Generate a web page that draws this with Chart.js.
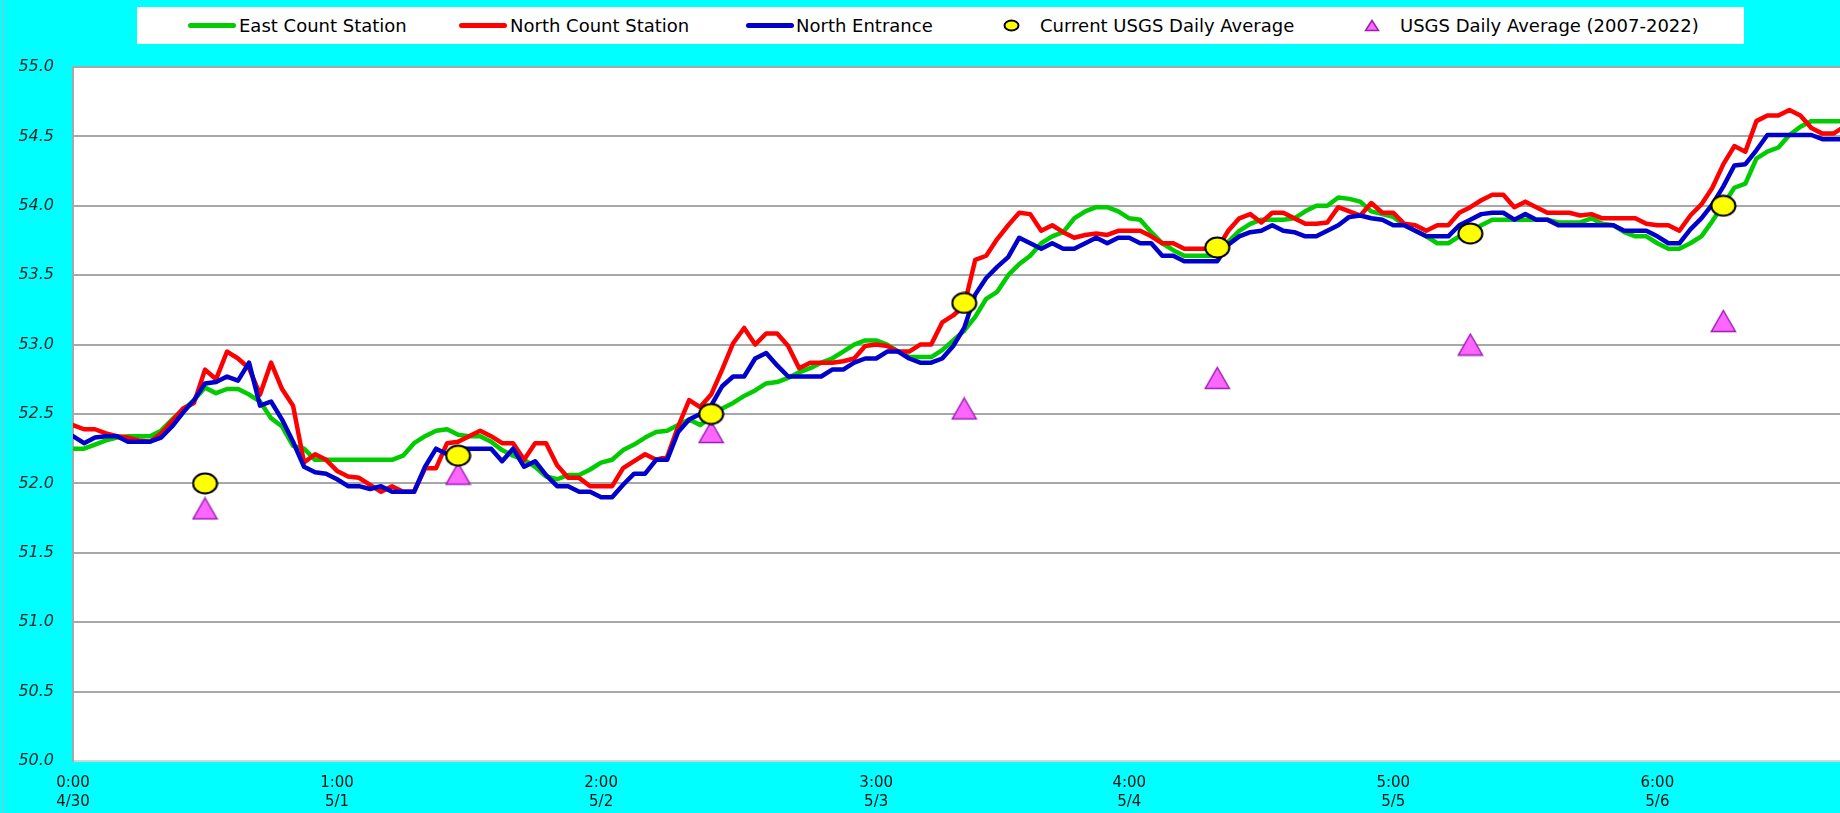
<!DOCTYPE html>
<html>
<head>
<meta charset="utf-8">
<script src="https://cdn.jsdelivr.net/npm/chart.js@4.4.1/dist/chart.umd.min.js"></script>
<style>
  html, body { margin: 0; overflow: hidden; background: #00ffff; }
  #wrap { position: relative; width: 1840px; height: 813px; overflow: hidden; }
  #chart { position: absolute; left: 0; top: 0; }
  #edge { position: absolute; left: 2px; top: 0; width: 1px; height: 813px; background: #b4b4b4; }
  #legend { position: absolute; left: 137px; top: 7px; width: 1607px; height: 37px; background: #fff;
            font: 18px "DejaVu Sans", sans-serif; color: #000; }
  #legend .tx { position: absolute; top: 0; line-height: 37px; white-space: nowrap; }
  #legend .ln { position: absolute; top: 16px; width: 48px; height: 5px; border-radius: 3px; }
  #legend canvas { position: absolute; top: 12px; }
</style>
</head>
<body>
<div id="wrap">
  <canvas id="chart" width="1840" height="813"></canvas>
  <div id="edge"></div>
  <div id="legend"></div>
</div>
<script>
// series names
const seriesNames = ['East Count Station', 'North Count Station', 'North Entrance',
  'Current USGS Daily Average', 'USGS Daily Average (2007-2022)'];

// x axis: one point per reading, a label about every 24 readings
const tickPos = [0, 24, 48, 73, 96, 120, 144];
const tickLabels = [['0:00', '4/30'], ['1:00', '5/1'], ['2:00', '5/2'], ['3:00', '5/3'],
  ['4:00', '5/4'], ['5:00', '5/5'], ['6:00', '5/6']];
const yTicks = [50, 50.5, 51, 51.5, 52, 52.5, 53, 53.5, 54, 54.5, 55];

const eastCount = [
  52.25, 52.25, 52.28, 52.31, 52.33, 52.34, 52.34, 52.34, 52.38, 52.46,
  52.53, 52.60, 52.69, 52.65, 52.68, 52.68, 52.64, 52.59, 52.47, 52.41,
  52.27, 52.25, 52.17, 52.17, 52.17, 52.17, 52.17, 52.17, 52.17, 52.17,
  52.20, 52.29, 52.34, 52.38, 52.39, 52.35, 52.34, 52.34, 52.30, 52.24,
  52.20, 52.17, 52.12, 52.05, 52.03, 52.06, 52.06, 52.10, 52.15, 52.17,
  52.24, 52.28, 52.33, 52.37, 52.38, 52.42, 52.46, 52.42, 52.48, 52.54,
  52.58, 52.63, 52.67, 52.72, 52.73, 52.76, 52.80, 52.83, 52.87, 52.90,
  52.95, 53.00, 53.03, 53.03, 53.00, 52.95, 52.91, 52.91, 52.91, 52.96,
  53.03, 53.10, 53.20, 53.33, 53.38, 53.50, 53.58, 53.64, 53.73, 53.78,
  53.81, 53.91, 53.96, 53.99, 53.99, 53.96, 53.91, 53.90, 53.81, 53.73,
  53.68, 53.64, 53.64, 53.64, 53.64, 53.74, 53.82, 53.87, 53.90, 53.90,
  53.90, 53.91, 53.96, 54.00, 54.00, 54.06, 54.05, 54.03, 53.96, 53.94,
  53.92, 53.86, 53.82, 53.78, 53.73, 53.73, 53.78, 53.81, 53.86, 53.90,
  53.90, 53.90, 53.90, 53.90, 53.90, 53.88, 53.88, 53.88, 53.91, 53.87,
  53.86, 53.81, 53.78, 53.78, 53.73, 53.69, 53.69, 53.73, 53.78, 53.89,
  54.01, 54.13, 54.16, 54.34, 54.39, 54.42, 54.51, 54.57, 54.61, 54.61,
  54.61, 54.61
];
const northCount = [
  52.42, 52.39, 52.39, 52.36, 52.34, 52.33, 52.31, 52.30, 52.36, 52.45,
  52.54, 52.58, 52.82, 52.75, 52.95, 52.90, 52.83, 52.64, 52.87, 52.68,
  52.56, 52.15, 52.21, 52.17, 52.09, 52.05, 52.04, 51.99, 51.94, 51.98,
  51.94, 51.94, 52.11, 52.11, 52.29, 52.30, 52.34, 52.38, 52.34, 52.29,
  52.29, 52.17, 52.29, 52.29, 52.13, 52.04, 52.04, 51.98, 51.98, 51.98,
  52.11, 52.16, 52.21, 52.17, 52.19, 52.41, 52.60, 52.55, 52.64, 52.82,
  53.01, 53.12, 53.00, 53.08, 53.08, 52.99, 52.83, 52.87, 52.87, 52.87,
  52.88, 52.90, 52.99, 53.00, 52.99, 52.95, 52.95, 53.00, 53.00, 53.16,
  53.21, 53.28, 53.61, 53.64, 53.76, 53.86, 53.95, 53.94, 53.82, 53.86,
  53.81, 53.77, 53.79, 53.80, 53.79, 53.82, 53.82, 53.82, 53.78, 53.73,
  53.73, 53.69, 53.69, 53.69, 53.69, 53.82, 53.91, 53.94, 53.88, 53.95,
  53.95, 53.91, 53.87, 53.87, 53.88, 53.99, 53.96, 53.93, 54.02, 53.95,
  53.95, 53.87, 53.86, 53.82, 53.86, 53.86, 53.95, 53.99, 54.04, 54.08,
  54.08, 53.99, 54.03, 53.99, 53.95, 53.95, 53.95, 53.93, 53.94, 53.91,
  53.91, 53.91, 53.91, 53.87, 53.86, 53.86, 53.82, 53.93, 54.01, 54.13,
  54.30, 54.43, 54.39, 54.61, 54.65, 54.65, 54.69, 54.65, 54.56, 54.52,
  54.52, 54.57
];
const northEntrance = [
  52.34, 52.29, 52.33, 52.34, 52.34, 52.30, 52.30, 52.30, 52.33, 52.41,
  52.51, 52.60, 52.72, 52.73, 52.77, 52.74, 52.87, 52.56, 52.59, 52.46,
  52.30, 52.12, 52.08, 52.07, 52.03, 51.98, 51.98, 51.96, 51.98, 51.94,
  51.94, 51.94, 52.12, 52.25, 52.21, 52.25, 52.25, 52.25, 52.25, 52.16,
  52.25, 52.12, 52.16, 52.06, 51.98, 51.98, 51.94, 51.94, 51.90, 51.90,
  51.99, 52.07, 52.07, 52.17, 52.17, 52.37, 52.46, 52.50, 52.56, 52.70,
  52.77, 52.77, 52.90, 52.94, 52.85, 52.77, 52.77, 52.77, 52.77, 52.82,
  52.82, 52.87, 52.90, 52.90, 52.95, 52.95, 52.90, 52.87, 52.87, 52.90,
  52.99, 53.12, 53.36, 53.48, 53.56, 53.63, 53.77, 53.73, 53.69, 53.73,
  53.69, 53.69, 53.73, 53.77, 53.73, 53.77, 53.77, 53.73, 53.73, 53.64,
  53.64, 53.60, 53.60, 53.60, 53.60, 53.72, 53.78, 53.81, 53.82, 53.86,
  53.82, 53.81, 53.78, 53.78, 53.82, 53.86, 53.92, 53.93, 53.91, 53.90,
  53.86, 53.86, 53.82, 53.78, 53.78, 53.78, 53.86, 53.90, 53.94, 53.95,
  53.95, 53.90, 53.94, 53.90, 53.90, 53.86, 53.86, 53.86, 53.86, 53.86,
  53.86, 53.82, 53.82, 53.82, 53.78, 53.73, 53.73, 53.83, 53.91, 54.01,
  54.14, 54.29, 54.30, 54.40, 54.51, 54.51, 54.51, 54.51, 54.51, 54.48,
  54.48, 54.48
];

// daily averages, plotted at these reading positions
const markerPos = [12, 35, 58, 81, 104, 127, 150];
const currentAvg = [52.0, 52.2, 52.5, 53.3, 53.7, 53.8, 54.0];
const histAvg = [51.82, 52.07, 52.37, 52.54, 52.76, 53.0, 53.17];

const toPoints = vals => vals.map((v, i) => ({ x: i, y: v }));
const toMarkers = vals => vals.map((v, i) => ({ x: markerPos[i], y: v }));

function ellipseMark(w, h) {
  const c = document.createElement('canvas');
  c.width = w; c.height = h;
  const g = c.getContext('2d');
  g.beginPath();
  g.ellipse(w / 2, h / 2, w / 2 - 1.5, h / 2 - 1.5, 0, 0, Math.PI * 2);
  g.fillStyle = '#ffff00';
  g.fill();
  g.lineWidth = 2;
  g.strokeStyle = '#000';
  g.stroke();
  return c;
}
function triangleMark(w, h) {
  const c = document.createElement('canvas');
  c.width = w; c.height = h;
  const g = c.getContext('2d');
  g.beginPath();
  g.moveTo(w / 2, 1.5);
  g.lineTo(w - 1.5, h - 1.5);
  g.lineTo(1.5, h - 1.5);
  g.closePath();
  g.fillStyle = '#ff66ff';
  g.fill();
  g.lineWidth = 1.5;
  g.strokeStyle = '#9b1fb5';
  g.stroke();
  return c;
}

const lineStyle = color => ({
  borderColor: color, backgroundColor: color, borderWidth: 4.5,
  pointRadius: 0, tension: 0, borderJoinStyle: 'round', borderCapStyle: 'round', fill: false
});

// white plotting area
const plotBg = {
  id: 'plotBg',
  beforeDraw(chart) {
    const { ctx, chartArea: a } = chart;
    ctx.save();
    ctx.fillStyle = '#ffffff';
    ctx.fillRect(a.left, a.top, a.right - a.left, a.bottom - a.top);
    ctx.restore();
  }
};

new Chart(document.getElementById('chart'), {
  type: 'line',
  data: {
    datasets: [
      { label: seriesNames[3], data: toMarkers(currentAvg), showLine: false,
        pointStyle: ellipseMark(27, 23), pointRadius: 12, order: 0 },
      { label: seriesNames[4], data: toMarkers(histAvg), showLine: false,
        pointStyle: triangleMark(27, 24), pointRadius: 12, order: 1 },
      { label: seriesNames[2], data: toPoints(northEntrance), ...lineStyle('#0000cc'), order: 2 },
      { label: seriesNames[1], data: toPoints(northCount), ...lineStyle('#ff0000'), order: 3 },
      { label: seriesNames[0], data: toPoints(eastCount), ...lineStyle('#00cc00'), order: 4 }
    ]
  },
  options: {
    responsive: false,
    animation: false,
    events: [],
    layout: { autoPadding: false, padding: { top: 67, left: 0, right: 0, bottom: 0 } },
    plugins: { legend: { display: false }, tooltip: { enabled: false } },
    scales: {
      x: {
        type: 'linear',
        min: 0,
        max: 160.6,
        afterBuildTicks: s => { s.ticks = tickPos.map(v => ({ value: v })); },
        afterFit: s => { s.height = 52; },
        grid: { display: false, drawTicks: false },
        border: { display: true, color: '#d4d4d4', width: 2 },
        ticks: {
          autoSkip: false, maxRotation: 0, padding: 13, color: '#111',
          font: { family: 'DejaVu Sans', size: 15, lineHeight: 1.27 },
          callback: (v, i) => tickLabels[i]
        }
      },
      y: {
        min: 50,
        max: 55,
        afterBuildTicks: s => { s.ticks = yTicks.map(v => ({ value: v })); },
        afterFit: s => { s.width = 73; },
        grid: { color: '#a8a8a8', lineWidth: 2, drawTicks: false },
        border: { color: '#a8a8a8', width: 2 },
        ticks: {
          padding: 19, color: '#182828',
          font: { family: 'DejaVu Sans', style: 'italic', size: 16 },
          callback: v => v.toFixed(1)
        }
      }
    }
  },
  plugins: [plotBg]
});

// legend box across the top
const legend = document.getElementById('legend');
const swatchLeft = [51, 322, 609, 866, 1227];
const textLeft = [102, 373, 659, 903, 1263];
const lineColors = ['#00cc00', '#ff0000', '#0000cc'];
seriesNames.forEach((name, i) => {
  let sw;
  if (i < 3) {
    sw = document.createElement('span');
    sw.className = 'ln';
    sw.style.background = lineColors[i];
  } else {
    sw = i === 3 ? ellipseMark(17, 13) : triangleMark(16, 13);
  }
  sw.style.left = swatchLeft[i] + 'px';
  legend.appendChild(sw);
  const tx = document.createElement('span');
  tx.className = 'tx';
  tx.style.left = textLeft[i] + 'px';
  tx.textContent = name;
  legend.appendChild(tx);
});
</script>
</body>
</html>
